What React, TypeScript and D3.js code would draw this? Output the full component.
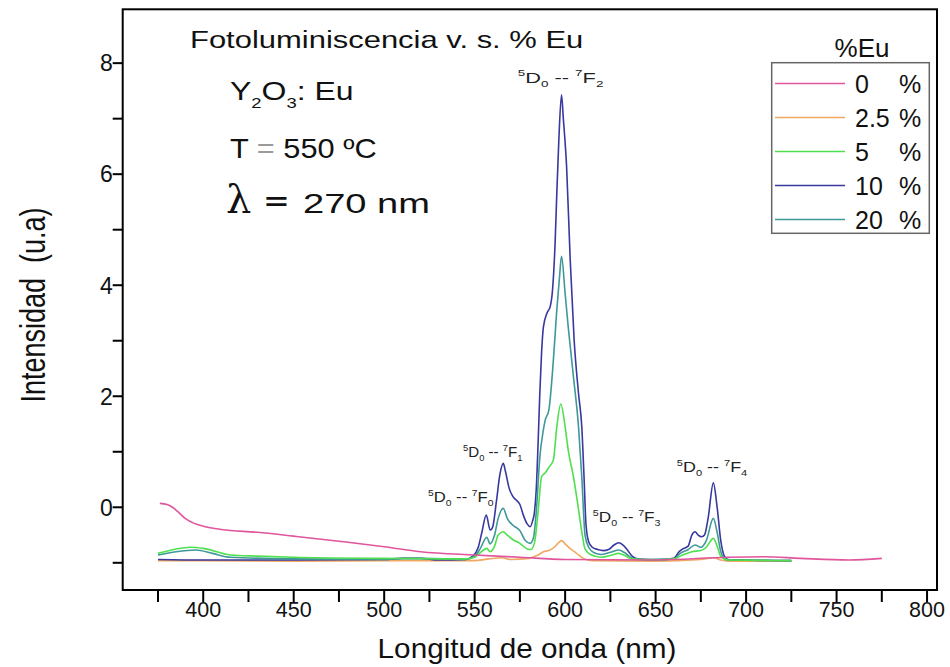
import React from "react";
import * as d3 from "d3";

// Photoluminescence spectra of Y2O3:Eu (λexc = 270 nm) for several Eu contents.
// Each series: [wavelength (nm), intensity (a.u.)]
const eu0: [number, number][] = [
  [376, 0.07], [380, 0.05], [383, 0.0], [386, -0.08], [390, -0.2], [395, -0.29], [400, -0.34],
  [410, -0.4], [430, -0.45], [450, -0.52], [480, -0.63], [500, -0.71], [520, -0.8],
  [550, -0.86], [575, -0.9], [600, -0.94], [650, -0.95], [690, -0.9], [710, -0.89],
  [730, -0.92], [757, -0.95], [775, -0.92],
];

const eu25: [number, number][] = [
  [375, -0.96], [400, -0.96], [450, -0.97], [500, -0.96], [550, -0.96], [558, -0.93],
  [565, -0.91], [570, -0.94], [580, -0.92], [585, -0.86], [588, -0.8], [591, -0.78],
  [594, -0.72], [596, -0.65], [598, -0.6], [600, -0.66], [603, -0.75], [606, -0.82],
  [610, -0.92], [615, -0.96], [650, -0.97], [675, -0.94], [682, -0.91], [686, -0.95],
  [690, -0.97], [725, -0.97],
];

const eu5: [number, number][] = [
  [375, -0.83], [385, -0.75], [393, -0.72], [400, -0.74], [415, -0.86], [430, -0.88],
  [450, -0.9], [500, -0.92], [545, -0.93], [550, -0.9], [553, -0.82], [556.7, -0.74],
  [558.5, -0.8], [561, -0.7], [563, -0.5], [565.8, -0.44], [568, -0.5], [571, -0.58],
  [575, -0.65], [579, -0.75], [581, -0.76], [583, -0.65], [585, -0.1], [587, 0.55],
  [589, 0.62], [591, 0.72], [593.5, 0.85], [595.4, 1.45], [597.6, 1.86], [600, 1.45],
  [601.7, 1.03], [604.6, 0.55], [607, 0.05], [609, -0.4], [611, -0.75], [614, -0.85],
  [620, -0.9], [626, -0.86], [629.5, -0.83], [633, -0.87], [637, -0.93], [650, -0.95],
  [660, -0.93], [665, -0.86], [670, -0.8], [675, -0.78], [678, -0.72], [681.9, -0.56],
  [684, -0.7], [686, -0.88], [690, -0.95], [725, -0.96],
];

const eu10: [number, number][] = [
  [375, -0.94], [400, -0.95], [450, -0.95], [500, -0.94], [510, -0.92], [520, -0.92],
  [530, -0.95], [545, -0.94], [549, -0.88], [552, -0.72], [554, -0.45], [556.4, -0.14],
  [558.6, -0.41], [560, -0.35], [562, 0.1], [564, 0.6], [565.8, 0.79], [567, 0.65],
  [569, 0.35], [571, 0.2], [573, 0.13], [575, 0.05], [577, -0.15], [579, -0.3],
  [580.7, -0.35], [582, -0.25], [583, -0.1], [584, 0.3], [585, 1.1], [586, 2.05],
  [587, 2.8], [588, 3.25], [590, 3.5], [591.7, 3.61], [593, 3.9], [594.5, 4.8],
  [595.4, 5.66], [596.5, 6.6], [598, 7.43], [599, 7.0], [600.8, 6.14], [602.8, 4.46],
  [605, 3.0], [607.4, 2.05], [609.2, 1.45], [610.5, 0.5], [611.5, -0.3], [613, -0.62],
  [615, -0.72], [618, -0.76], [621, -0.78], [624, -0.76], [627, -0.68], [629.5, -0.64],
  [632, -0.68], [634, -0.75], [637, -0.88], [640, -0.93], [650, -0.95], [660, -0.92],
  [663, -0.8], [665, -0.75], [668, -0.7], [670, -0.5], [671.8, -0.44], [673.5, -0.5],
  [675.5, -0.53], [677, -0.5], [679, -0.2], [681.9, 0.44], [684, 0.0], [686, -0.6],
  [688, -0.88], [690, -0.94], [700, -0.95], [725, -0.96],
];

const eu20: [number, number][] = [
  [375, -0.86], [385, -0.8], [396, -0.77], [405, -0.83], [415, -0.9], [450, -0.93],
  [500, -0.94], [510, -0.92], [520, -0.92], [545, -0.94], [550, -0.88], [553, -0.75],
  [556.7, -0.54], [558.5, -0.66], [561, -0.5], [563, -0.2], [565.8, -0.02], [568, -0.2],
  [571, -0.32], [575, -0.42], [578, -0.6], [580.7, -0.65], [582.5, -0.55], [584, -0.1],
  [586, 0.9], [588, 1.4], [589, 1.57], [591, 1.75], [593.5, 2.65], [595.4, 3.56],
  [596.9, 4.15], [598, 4.52], [600, 3.85], [601.7, 3.25], [604.6, 2.35], [607.4, 1.45],
  [609.2, 0.55], [611, -0.5], [613, -0.72], [616, -0.82], [620, -0.85], [626, -0.8],
  [629.5, -0.77], [633, -0.82], [637, -0.92], [640, -0.94], [660, -0.93], [664, -0.82],
  [668, -0.76], [671.8, -0.68], [675, -0.72], [678, -0.6], [681.9, -0.2], [684, -0.45],
  [686, -0.8], [688, -0.92], [690, -0.95], [725, -0.96],
];

const seriesLabels = ["0", "2.5", "5", "10", "20"];
const seriesData = [eu0, eu25, eu5, eu10, eu20];
const seriesColors = ["#e0559c", "#f0a862", "#4ee04e", "#38389e", "#3f9898"];
// drawing order (indices into the series lists)
const drawOrder = [1, 3, 4, 2, 0];

const xMajorTicks = [400, 450, 500, 550, 600, 650, 700, 750, 800];
const xMinorTicks = [375, 425, 475, 525, 575, 625, 675, 725, 775];
const yMajorTicks = [0, 2, 4, 6, 8];
const yMinorTicks = [-1, 1, 3, 5, 7];

// Eu3+ transitions 5D0 -> 7FJ: J, label centre (nm, a.u.)
const transitions: [string, number, number][] = [
  ["0", 542.3, 0.1],
  ["1", 560.0, 0.91],
  ["2", 597.5, 7.65],
  ["3", 634.0, -0.26],
  ["4", 681.2, 0.64],
];

const W = 950;
const H = 667;
const plot = { left: 122.7, right: 937, top: 9.3, bottom: 590 };

const FONT = "'Liberation Sans', Arial, Helvetica, sans-serif";

const x = d3.scaleLinear().domain([355.5, 805.5]).range([plot.left, plot.right]);
const y = d3.scaleLinear().domain([-1.49, 8.97]).range([plot.bottom, plot.top]);

const line = d3
  .line<[number, number]>()
  .x((d) => x(d[0]))
  .y((d) => y(d[1]))
  .curve(d3.curveMonotoneX);

function TransitionLabel({ j, cx, cy, size, sx }: { j: string; cx: number; cy: number; size: number; sx: number }) {
  const s = size * 0.62;
  const up = size * 0.42;
  const down = size * 0.32;
  return (
    <text
      transform={`translate(${cx},${cy}) scale(${sx},1)`}
      textAnchor="middle"
      fontFamily={FONT}
      fontSize={size}
      fill="#222"
      style={{ whiteSpace: "pre" }}
    >
      <tspan fontSize={s} dy={-up}>5</tspan>
      <tspan dy={up}>D</tspan>
      <tspan fontSize={s} dy={down}>0</tspan>
      <tspan dy={-down}>{" -- "}</tspan>
      <tspan fontSize={s} dy={-up}>7</tspan>
      <tspan dy={up}>F</tspan>
      <tspan fontSize={s} dy={down}>{j}</tspan>
    </text>
  );
}

const labelStyle: Record<string, { size: number; sx: number }> = {
  "0": { size: 14, sx: 1.19 },
  "1": { size: 14, sx: 1.08 },
  "2": { size: 15, sx: 1.45 },
  "3": { size: 14, sx: 1.23 },
  "4": { size: 14, sx: 1.28 },
};

export default function App() {
  const legend = { left: 771.7, top: 62.7, right: 929.3, bottom: 233.3, row0: 83.5, rowStep: 34 };

  return (
    <svg
      width={W}
      height={H}
      viewBox={`0 0 ${W} ${H}`}
      style={{ position: "absolute", left: 0, top: 0, background: "#fff" }}
    >
      <rect x={0} y={0} width={W} height={H} fill="#fff" />

      {/* spectra */}
      <g fill="none" strokeWidth={1.6} strokeLinejoin="round">
        {drawOrder.map((i) => (
          <path key={seriesLabels[i]} d={line(seriesData[i]) || ""} stroke={seriesColors[i]} />
        ))}
      </g>

      {/* frame */}
      <rect
        x={plot.left}
        y={plot.top}
        width={plot.right - plot.left}
        height={plot.bottom - plot.top}
        fill="none"
        stroke="#000"
        strokeWidth={2}
      />

      {/* axis ticks */}
      <g stroke="#000" strokeWidth={2}>
        {[...xMajorTicks, ...xMinorTicks].map((t) => (
          <line key={`xt${t}`} x1={x(t)} x2={x(t)} y1={plot.bottom} y2={plot.bottom + 12} />
        ))}
        {[...yMajorTicks, ...yMinorTicks].map((t) => (
          <line key={`yt${t}`} x1={plot.left - 10} x2={plot.left} y1={y(t)} y2={y(t)} />
        ))}
      </g>
      <g fontFamily={FONT} fontSize={21.5} fill="#111">
        {xMajorTicks.map((t) => (
          <text key={`xl${t}`} x={x(t)} y={617} textAnchor="middle">
            {t}
          </text>
        ))}
      </g>
      <g fontFamily={FONT} fontSize={23} fill="#111">
        {yMajorTicks.map((t) => (
          <text key={`yl${t}`} x={plot.left - 10} y={y(t) + 8.3} textAnchor="end">
            {t}
          </text>
        ))}
      </g>

      {/* axis titles */}
      <text
        transform={`translate(527,658) scale(1.1,1)`}
        textAnchor="middle"
        fontFamily={FONT}
        fontSize={27}
        fill="#111"
      >
        Longitud de onda (nm)
      </text>
      <text
        transform={`translate(45,305) rotate(-90) scale(1,1.3)`}
        textAnchor="middle"
        fontFamily={FONT}
        fontSize={27}
        fill="#111"
        style={{ whiteSpace: "pre" }}
      >
        {"Intensidad  (u.a)"}
      </text>

      {/* annotation block */}
      <text transform="translate(190,47.5) scale(1.29,1)" fontFamily={FONT} fontSize={24} fill="#111">
        Fotoluminiscencia v. s. % Eu
      </text>
      <text transform="translate(230,100) scale(1.23,1)" fontFamily={FONT} fontSize={26} fill="#111">
        Y
        <tspan fontSize={15} dy={8}>2</tspan>
        <tspan dy={-8}>O</tspan>
        <tspan fontSize={15} dy={8}>3</tspan>
        <tspan dy={-8}>: Eu</tspan>
      </text>
      <text
        transform="translate(230,157.5) scale(1.14,1)"
        fontFamily={FONT}
        fontSize={27}
        fill="#111"
        style={{ whiteSpace: "pre" }}
      >
        T <tspan fill="#9a9a9a">=</tspan> 550 ºC
      </text>
      <text x={226} y={213} fontFamily="'DejaVu Serif', 'Liberation Serif', serif" fontSize={40} fill="#111">
        λ
      </text>
      <text x={263} y={212} fontFamily="'DejaVu Sans', sans-serif" fontSize={32} fill="#111">
        =
      </text>
      <text transform="translate(303,213) scale(1.36,1)" fontFamily={FONT} fontSize={28} fill="#111">
        270 nm
      </text>

      {/* transition labels */}
      {transitions.map(([j, nm, v]) => (
        <TransitionLabel key={j} j={j} cx={x(nm)} cy={y(v)} size={labelStyle[j].size} sx={labelStyle[j].sx} />
      ))}

      {/* legend */}
      <text x={862} y={57} textAnchor="middle" fontFamily={FONT} fontSize={26} fill="#111">
        %Eu
      </text>
      <rect
        x={legend.left}
        y={legend.top}
        width={legend.right - legend.left}
        height={legend.bottom - legend.top}
        fill="#fff"
        stroke="#666"
        strokeWidth={1.5}
      />
      {seriesLabels.map((name, i) => {
        const ry = legend.row0 + i * legend.rowStep;
        return (
          <g key={`lg${name}`}>
            <line x1={775} x2={845} y1={ry} y2={ry} stroke={seriesColors[i]} strokeWidth={1.6} />
            <text x={855} y={ry + 9} fontFamily={FONT} fontSize={25} fill="#111">
              {name}
            </text>
            <text x={899} y={ry + 9} fontFamily={FONT} fontSize={25} fill="#111">
              %
            </text>
          </g>
        );
      })}
    </svg>
  );
}
